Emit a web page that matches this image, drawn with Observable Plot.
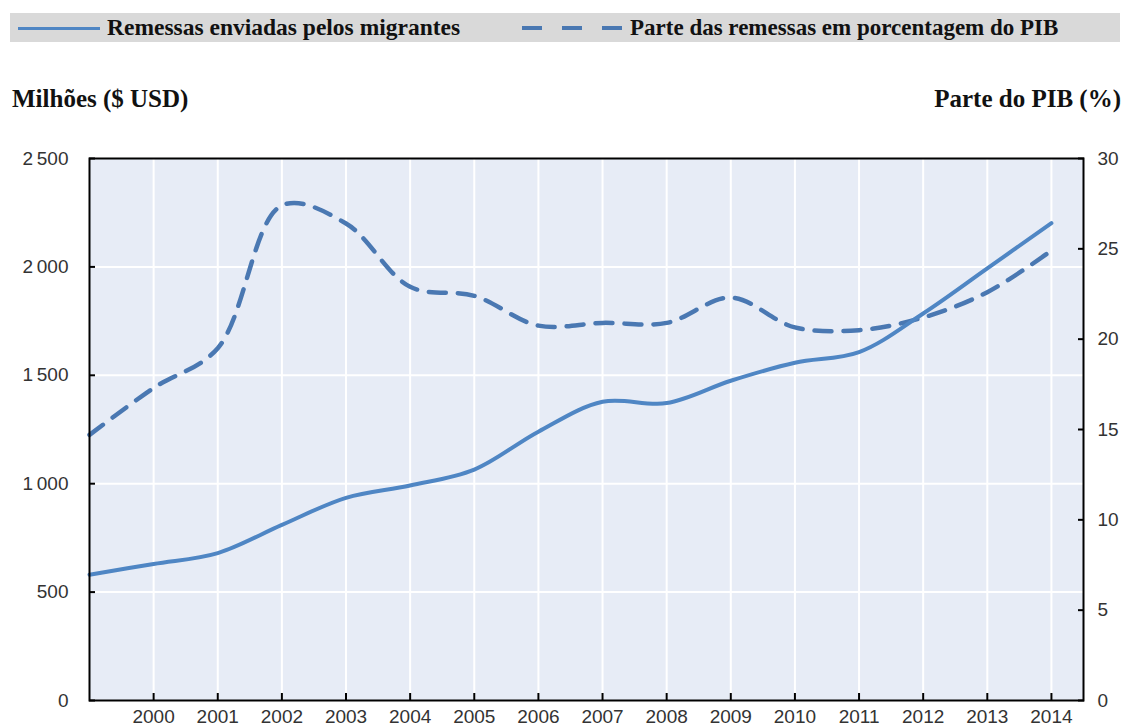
<!DOCTYPE html>
<html><head><meta charset="utf-8">
<script src="https://cdn.jsdelivr.net/npm/d3@7"></script>
<script src="https://cdn.jsdelivr.net/npm/@observablehq/plot@0.6"></script>
<style>
body{margin:0;background:#fff;width:1131px;height:726px;position:relative;overflow:hidden}
.serif{font-family:"Liberation Serif","DejaVu Serif",serif;font-weight:700;color:#111;position:absolute;white-space:nowrap;line-height:1}
#legend{position:absolute;left:10px;top:13px;width:1110px;height:29px;background:#d9d9d9}
.sw{position:absolute;height:3px;background:#4f86c4;top:14px}
.dsh{position:absolute;height:4px;background:#4a78b2;top:13px;width:20px}
#chart{position:absolute;left:0;top:140px}
</style></head><body>
<div id="legend">
  <div class="sw" style="left:8px;width:82px"></div>
  <span class="serif" style="left:97px;top:3px;font-size:23.5px">Remessas enviadas pelos migrantes</span>
  <div class="dsh" style="left:512px"></div>
  <div class="dsh" style="left:552px"></div>
  <div class="dsh" style="left:592px"></div>
  <span class="serif" style="left:620px;top:3px;font-size:23px">Parte das remessas em porcentagem do PIB</span>
</div>
<div class="serif" style="left:12px;top:86px;font-size:25px">Milhões ($ USD)</div>
<div class="serif" style="right:10px;top:86px;font-size:25px">Parte do PIB (%)</div>
<div id="chart"></div>
<script>
const years = [1999,2000,2001,2002,2003,2004,2005,2006,2007,2008,2009,2010,2011,2012,2013,2014];
const remittances = [580,630,680,810,935,992,1065,1240,1378,1372,1475,1558,1607,1785,1993,2202];
const gdpShare = [14.7,17.3,19.5,27.4,26.4,22.9,22.4,20.75,20.9,20.9,22.3,20.65,20.5,21.2,22.6,24.9];
const xTickYears = [2000,2001,2002,2003,2004,2005,2006,2007,2008,2009,2010,2011,2012,2013,2014];
const leftTicks = [0,500,1000,1500,2000,2500];
const gridValues = [500,1000,1500,2000];
const rightTicks = [0,5,10,15,20,25,30];

const leftMax = 2500, rightMax = 30, k = leftMax / rightMax;
const fmt = d3.formatLocale({decimal:",", thousands:"\u2009", grouping:[3], currency:["",""]}).format(",");
const data = years.map((y,i)=>({year:y, rem:remittances[i], pct:gdpShare[i]}));
const rightPos = rightTicks.map(v=>v*k);

const chart = Plot.plot({
  width:1131, height:586, marginLeft:89, marginRight:48, marginTop:18, marginBottom:26,
  style:{fontFamily:'"Liberation Sans", Arial, sans-serif', fontSize:"19px", color:"#333", background:"transparent", overflow:"visible"},
  x:{domain:[1999,2014.5]},
  y:{domain:[0,leftMax]},
  marks:[
    Plot.frame({fill:"#e7ecf6", stroke:null}),
    Plot.gridX(xTickYears,{stroke:"#fff", strokeOpacity:1, strokeWidth:2}),
    Plot.gridY(gridValues,{stroke:"#fff", strokeOpacity:1, strokeWidth:2}),
    Plot.line(data,{x:"year", y:d=>d.pct*k, stroke:"#4a78b2", strokeWidth:4.5, strokeDasharray:"17,12", curve:"catmull-rom"}),
    Plot.line(data,{x:"year", y:"rem", stroke:"#4f86c4", strokeWidth:4, curve:"catmull-rom"}),
    Plot.frame({stroke:"#000", strokeWidth:2}),
    Plot.axisX(xTickYears,{tickSize:0, tickPadding:9, tickFormat:d=>String(d), label:null}),
    Plot.axisX(xTickYears,{tickSize:7, dy:-7, tickFormat:()=>"", label:null, stroke:"#000", strokeWidth:2}),
    Plot.axisY(leftTicks,{anchor:"left", tickSize:0, tickPadding:21, tickFormat:fmt, label:null}),
    Plot.axisY(leftTicks,{anchor:"left", tickSize:6, dx:6, tickFormat:()=>"", label:null, stroke:"#000", strokeWidth:2}),
    Plot.axisY(rightPos,{anchor:"right", tickSize:0, tickPadding:14, tickFormat:v=>String(Math.round(v/k)), label:null}),
    Plot.axisY(rightPos,{anchor:"right", tickSize:6, dx:-6, tickFormat:()=>"", label:null, stroke:"#000", strokeWidth:2})
  ]
});
document.getElementById("chart").appendChild(chart);
</script>
</body></html>
